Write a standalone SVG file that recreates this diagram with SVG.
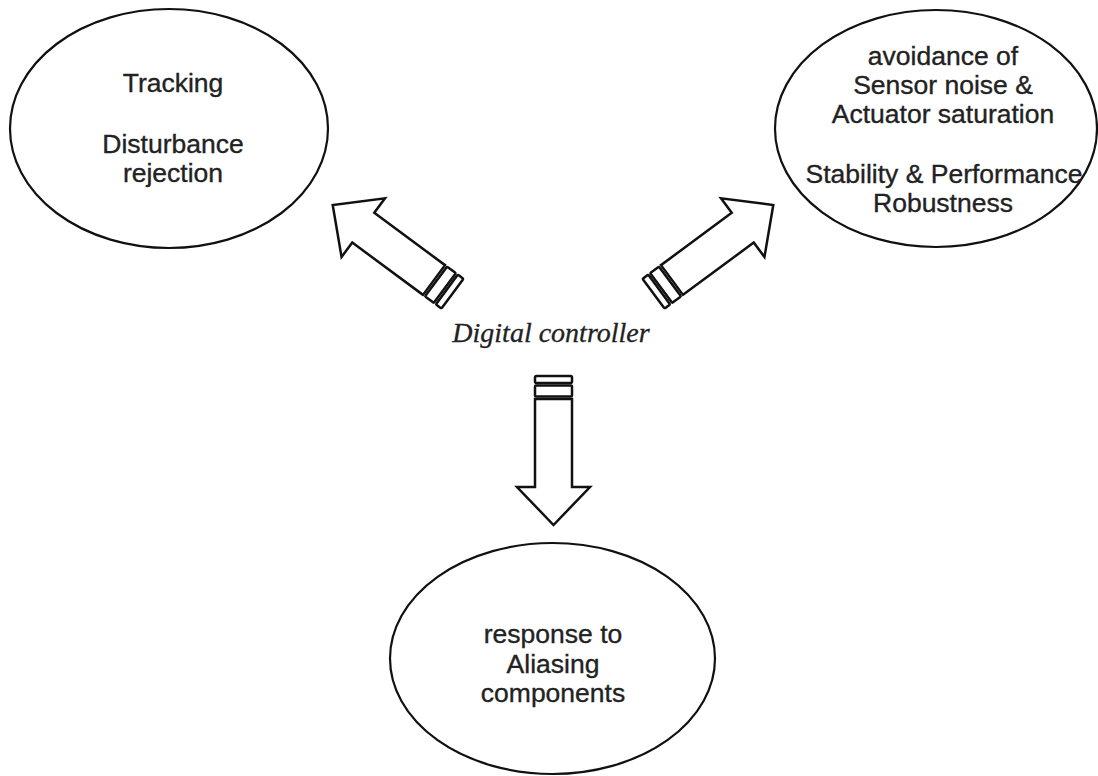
<svg xmlns="http://www.w3.org/2000/svg" width="1098" height="776" viewBox="0 0 1098 776">
  <style>
    .bubble { fill: none; stroke: #111; stroke-width: 2.2; }
    .label { font-family: "Liberation Sans", Arial, Helvetica, sans-serif; font-size: 26.5px; fill: #222; stroke: #222; stroke-width: 0.35; text-anchor: middle; }
    .title { font-family: "Liberation Serif", "Times New Roman", serif; font-style: italic; font-size: 28px; fill: #222; stroke: #222; stroke-width: 0.3; text-anchor: middle; }
    .arrow { fill: #fff; stroke: #111; stroke-width: 2.5; stroke-linejoin: miter; }
  </style>
  <defs>
    <!-- Hollow block arrow pointing along +x, shaft start at origin, with two tail bands -->
    <g id="blockArrow">
      <rect class="arrow" x="-23" y="-18.5" width="7" height="37" rx="1.5"/>
      <rect class="arrow" x="-13.5" y="-18.5" width="11" height="37" rx="1"/>
      <path class="arrow" d="M0,-18.5 L88,-18.5 L88,-36.5 L126,0 L88,36.5 L88,18.5 L0,18.5 Z"/>
    </g>
  </defs>

  <rect width="1098" height="776" fill="#fff"/>

  <g id="tracking">
    <ellipse class="bubble" cx="169" cy="128.5" rx="159" ry="119.5"/>
    <text class="label" x="173" y="92">Tracking</text>
    <text class="label" x="173" y="153">Disturbance</text>
    <text class="label" x="173" y="182">rejection</text>
  </g>

  <g id="robustness">
    <ellipse class="bubble" cx="936" cy="128.5" rx="161" ry="118.5"/>
    <text class="label" x="943" y="65">avoidance of</text>
    <text class="label" x="943" y="94">Sensor noise &amp;</text>
    <text class="label" x="943" y="123">Actuator saturation</text>
    <text class="label" x="944" y="183">Stability &amp; Performance</text>
    <text class="label" x="943" y="212">Robustness</text>
  </g>

  <g id="aliasing">
    <ellipse class="bubble" cx="552.5" cy="658.5" rx="162.5" ry="115.5"/>
    <text class="label" x="553" y="643">response to</text>
    <text class="label" x="553" y="673">Aliasing</text>
    <text class="label" x="553" y="702">components</text>
  </g>

  <g id="controller">
    <text class="title" x="551" y="342">Digital controller</text>
  </g>

  <g id="connectors">
    <use href="#blockArrow" transform="translate(434,280) rotate(-143.5)"/>
    <use href="#blockArrow" transform="translate(672,280) rotate(-36.5)"/>
    <use href="#blockArrow" transform="translate(553.5,399) rotate(90)"/>
  </g>
</svg>
